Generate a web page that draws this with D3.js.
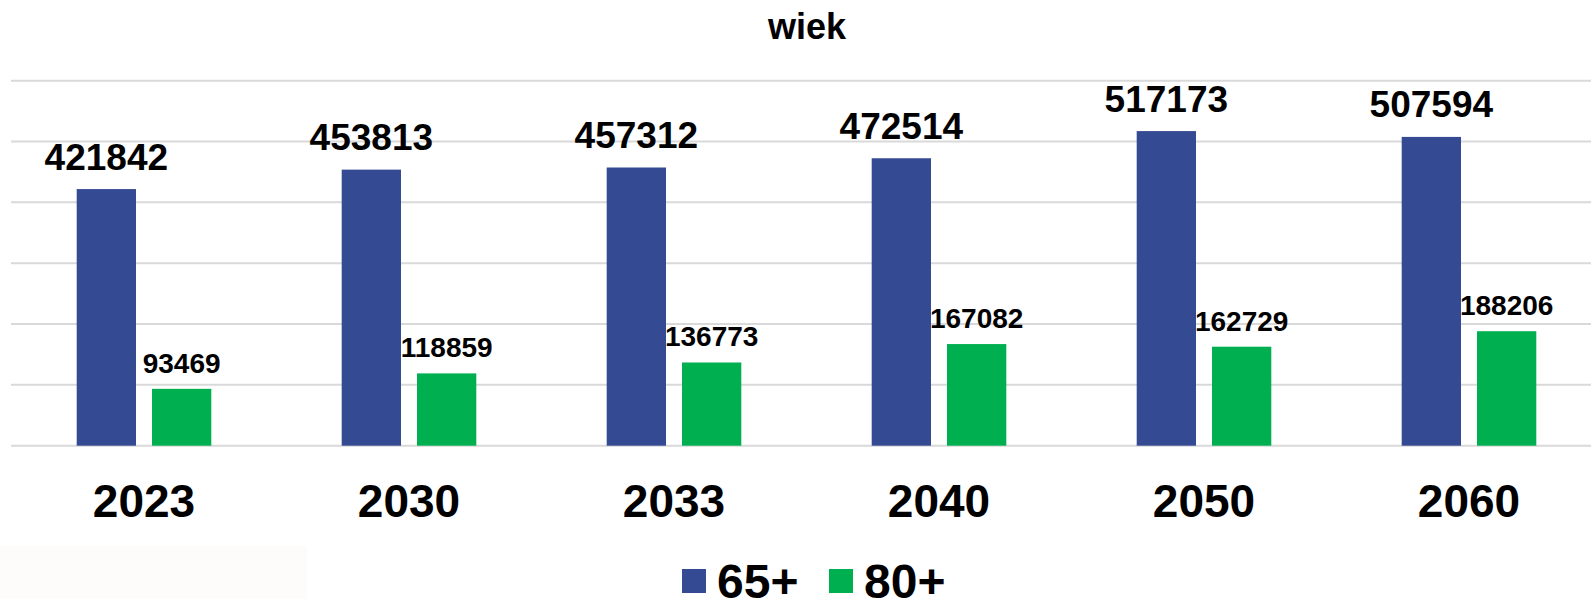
<!DOCTYPE html>
<html>
<head>
<meta charset="utf-8">
<script src="https://cdn.jsdelivr.net/npm/d3@7"></script>
<style>
  html, body { margin: 0; padding: 0; background: #ffffff; }
  svg { display: block; font-family: Arial, 'Liberation Sans', sans-serif; font-weight: bold; }
</style>
</head>
<body>
<div id="chart"></div>
<script>
const years = ['2023', '2030', '2033', '2040', '2050', '2060']
const series = ['65+', '80+']
const values65 = [421842, 453813, 457312, 472514, 517173, 507594]
const values80 = [93469, 118859, 136773, 167082, 162729, 188206]
const yTicks = [0, 100000, 200000, 300000, 400000, 500000, 600000]

const colors = {'65+': '#344a93', '80+': '#00b050'}

const width = 1591,
  height = 599

const data = years.map(function(y, i) {
  return {year: y, '65+': values65[i], '80+': values80[i]}
})

const svg = d3
  .select('#chart')
  .append('svg')
  .attr('width', width)
  .attr('height', height)

// faint off-white patch in the lower left corner of the original
svg
  .append('rect')
  .attr('x', 0)
  .attr('y', 546)
  .attr('width', 307)
  .attr('height', height - 546)
  .attr('fill', '#fdfcfa')

const x = d3
  .scaleBand()
  .domain(years)
  .range([11.5, 1601.5])
  .padding(0)

const bw = x.bandwidth()
const xs = d3
  .scaleBand()
  .domain(series)
  .range([bw / 2 - 67.3, bw / 2 + 67.3])
  .paddingInner(0.2125)

const y = d3
  .scaleLinear()
  .domain([0, 600000])
  .range([445.7, 80.7])

// gridlines
svg
  .append('g')
  .selectAll('line')
  .data(yTicks)
  .enter()
  .append('line')
  .attr('x1', 11)
  .attr('x2', width)
  .attr('y1', function(d) {
    return y(d)
  })
  .attr('y2', function(d) {
    return y(d)
  })
  .attr('stroke', '#d9d9d9')
  .attr('stroke-width', 2)

// title
svg
  .append('text')
  .attr('x', 807)
  .attr('y', 39)
  .attr('text-anchor', 'middle')
  .style('font-size', '36px')
  .attr('fill', '#000')
  .text('wiek')

const groups = svg
  .selectAll('g.group')
  .data(data)
  .enter()
  .append('g')
  .attr('class', 'group')
  .attr('transform', function(d) {
    return 'translate(' + x(d.year) + ',0)'
  })

groups
  .selectAll('rect')
  .data(function(d) {
    return series.map(function(s) {
      return {key: s, value: d[s]}
    })
  })
  .enter()
  .append('rect')
  .attr('x', function(d) {
    return xs(d.key)
  })
  .attr('width', xs.bandwidth())
  .attr('y', function(d) {
    return y(d.value)
  })
  .attr('height', function(d) {
    return y(0) - y(d.value)
  })
  .attr('fill', function(d) {
    return colors[d.key]
  })

// value labels
groups
  .selectAll('text.val')
  .data(function(d) {
    return series.map(function(s) {
      return {key: s, value: d[s]}
    })
  })
  .enter()
  .append('text')
  .attr('class', 'val')
  .attr('text-anchor', 'middle')
  .attr('x', function(d) {
    return xs(d.key) + xs.bandwidth() / 2
  })
  .attr('y', function(d) {
    return y(d.value) - (d.key === '65+' ? 19.5 : 16)
  })
  .style('font-size', function(d) {
    return d.key === '65+' ? '37px' : '28px'
  })
  .attr('fill', '#000')
  .text(function(d) {
    return d.value
  })

// x axis labels
svg
  .append('g')
  .attr('transform', 'translate(0,' + y(0) + ')')
  .call(d3.axisBottom(x).tickSize(0).tickPadding(0))
  .call(function(g) {
    g.select('.domain').remove()
  })
  .selectAll('text')
  .attr('dy', null)
  .attr('y', 71)
  .attr('fill', '#000')
  .style('font-size', '46px')
  .style('font-family', 'Arial, "Liberation Sans", sans-serif')
  .style('font-weight', 'bold')

// legend
const legendX = [682, 829]
const legend = svg
  .selectAll('g.legend')
  .data(series)
  .enter()
  .append('g')
  .attr('class', 'legend')
  .attr('transform', function(d, i) {
    return 'translate(' + legendX[i] + ',569)'
  })

legend
  .append('rect')
  .attr('width', 24)
  .attr('height', 24)
  .attr('fill', function(d) {
    return colors[d]
  })

legend
  .append('text')
  .attr('x', 35)
  .attr('y', 28.7)
  .style('font-size', '48px')
  .attr('fill', '#000')
  .text(function(d) {
    return d
  })
</script>
</body>
</html>
